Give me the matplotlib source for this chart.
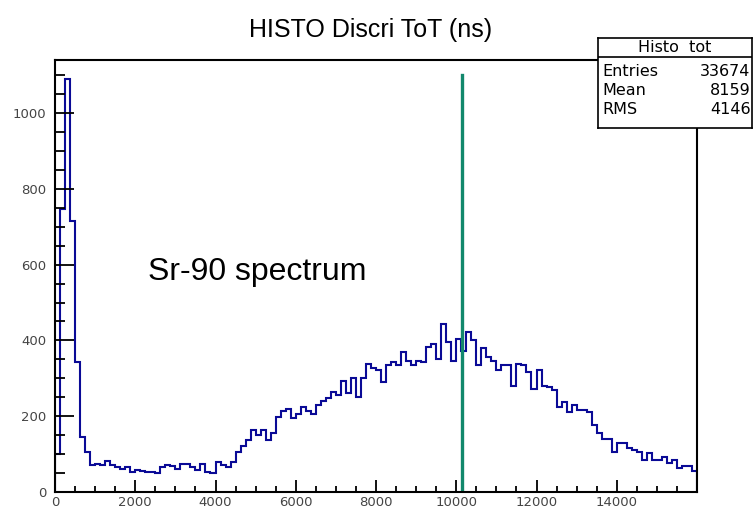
"""
Histograma ToT del discriminador (Sr-90), estilo ROOT.
"""

import numpy as np
import matplotlib
matplotlib.use("Agg")
import matplotlib.pyplot as plt

# --- datos (128 bins de 125 ns entre 0 y 16000) ---
X_MIN, X_MAX = 0, 16000
CUENTAS = [
    100, 747, 1089, 716, 343, 146, 106, 72, 75, 70,
    82, 72, 66, 60, 67, 53, 57, 55, 53, 52,
    49, 67, 71, 69, 60, 75, 73, 67, 58, 75,
    52, 49, 78, 71, 67, 80, 106, 122, 137, 163,
    150, 163, 137, 155, 198, 214, 218, 194, 207, 224,
    214, 205, 229, 240, 247, 264, 255, 294, 262, 300,
    251, 300, 339, 326, 321, 290, 334, 343, 334, 369,
    347, 334, 347, 343, 382, 391, 352, 444, 395, 347,
    404, 373, 421, 400, 334, 380, 356, 345, 321, 334,
    334, 281, 339, 334, 316, 273, 321, 281, 277, 268,
    224, 237, 210, 229, 216, 216, 211, 176, 155, 141,
    141, 106, 128, 128, 115, 110, 106, 84, 103, 84,
    84, 92, 76, 84, 63, 68, 68, 55,
]
CORTE_X = 10150          # linea vertical verde
CORTE_Y_MAX = 1100
STATS_NOMBRE = "Histo  tot"
STATS_FILAS = [("Entries", "33674"), ("Mean", "8159"), ("RMS", "4146")]
TITULO = "HISTO Discri ToT (ns)"
ETIQUETA = "Sr-90 spectrum"

FUENTE = "Liberation Sans"
FUENTE_EJES = "DejaVu Sans"
AZUL = "#0a0a96"
VERDE = "#12886c"

bordes = np.linspace(X_MIN, X_MAX, len(CUENTAS) + 1)

fig = plt.figure(figsize=(7.53, 5.13), dpi=100)
ax = fig.add_axes([55 / 753, 21 / 513, 642 / 753, 432 / 513])

ax.stairs(CUENTAS, bordes, color=AZUL, linewidth=1.5, baseline=0)
ax.plot([CORTE_X, CORTE_X], [0, CORTE_Y_MAX], color=VERDE, linewidth=2.4)

ax.set_xlim(X_MIN, X_MAX)
ax.set_ylim(0, 1140)
ax.set_xticks(np.arange(0, 16000, 2000))
ax.set_xticks(np.arange(0, 16000, 500), minor=True)
ax.set_yticks(np.arange(0, 1001, 200))
ax.set_yticks(np.arange(0, 1140, 50), minor=True)

for s in ax.spines.values():
    s.set_linewidth(1.5)
ax.tick_params(axis="both", which="both", direction="in", width=1.3,
               top=False, right=False, labelsize=9.5, labelcolor="#444444")
ax.tick_params(axis="y", which="major", length=14, pad=6)
ax.tick_params(axis="y", which="minor", length=7)
ax.tick_params(axis="x", which="major", length=9, pad=3)
ax.tick_params(axis="x", which="minor", length=4.5)
for lab in ax.get_xticklabels() + ax.get_yticklabels():
    lab.set_family(FUENTE_EJES)

ax.text(2320, 580, ETIQUETA, fontsize=23, family=FUENTE, va="center")

fig.text(371 / 753, 1 - 30 / 513, TITULO, fontsize=18, family=FUENTE,
         ha="center", va="center")

# --- caja de estadisticas ---
caja = fig.add_axes([598 / 753, 1 - 128 / 513, 154 / 753, 90 / 513])
caja.set_xticks([])
caja.set_yticks([])
caja.set_xlim(0, 1)
caja.set_ylim(0, 1)
for s in caja.spines.values():
    s.set_linewidth(1.2)
caja.axhline(0.79, color="black", linewidth=1.2)
caja.text(0.5, 0.9, STATS_NOMBRE, ha="center", va="center", fontsize=11.5,
          family=FUENTE_EJES)
for i, (nombre, valor) in enumerate(STATS_FILAS):
    y = 0.63 - i * 0.21
    caja.text(0.03, y, nombre, ha="left", va="center", fontsize=11.5,
              family=FUENTE_EJES)
    caja.text(0.99, y, valor, ha="right", va="center", fontsize=11.5,
              family=FUENTE_EJES)

fig.savefig("out.png", dpi=100)
